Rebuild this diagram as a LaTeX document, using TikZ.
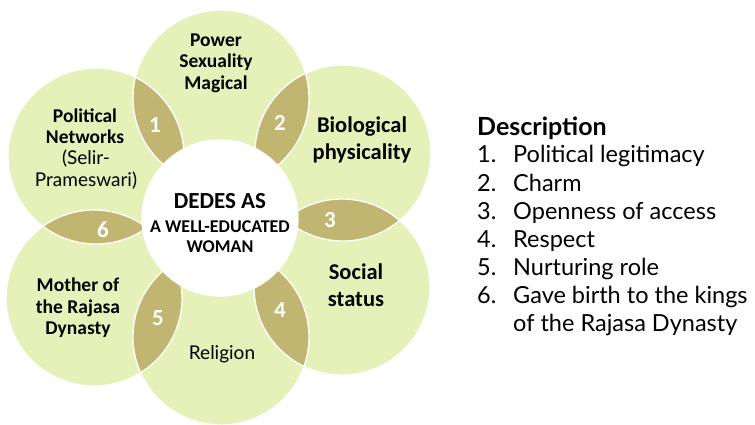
\documentclass[tikz,border=0pt]{standalone}
\usepackage{fontspec}
\setmainfont{Carlito}
\newfontfamily\lato{Lato}
\definecolor{petalgreen}{RGB}{229,241,184}
\definecolor{lensolive}{RGB}{193,181,114}
\tikzset{
  petalfill/.style={fill=petalgreen},
  lensfill/.style={fill=lensolive},
  rim/.style={draw=white, line width=1.3pt},
  blabel/.style={align=center, text=black, inner sep=1pt, font=\bfseries\fontsize{19.5}{21.5}\selectfont},
  biglabel/.style={align=center, text=black, inner sep=1pt, font=\bfseries\fontsize{22.5}{27}\selectfont},
  rlabel/.style={align=center, text=black, inner sep=1pt, font=\lato\fontsize{19}{22}\selectfont},
  numlabel/.style={text=white, font=\bfseries\fontsize{23}{23}\selectfont},
  hubtext/.style={anchor=base, inner sep=1pt, font=\bfseries\fontsize{18}{18}\selectfont},
  desc/.style={anchor=base west, inner sep=0pt, text=black, font=\lato\fontsize{23.5}{28}\selectfont},
}
\begin{document}
\begin{tikzpicture}[x=1pt,y=-1pt]
\useasboundingbox (0,0) rectangle (755,425);
\coordinate (p1) at (221,98);
\coordinate (p2) at (343,153);
\coordinate (p3) at (342,287);
\coordinate (p4) at (221,337);
\coordinate (p5) at (94,298);
\coordinate (p6) at (96,156);
% petals
\foreach \p in {p1,p2,p3,p4,p5,p6} \fill[petalfill] (\p) circle (88pt);
% lenses
\foreach \a/\b in {p1/p2,p2/p3,p3/p4,p4/p5,p5/p6,p6/p1}{
  \begin{scope}
    \clip (\a) circle (88pt);
    \fill[lensfill] (\b) circle (88pt);
  \end{scope}
}
% outlines
\foreach \p in {p1,p2,p3,p4,p5,p6} \draw[rim] (\p) circle (88pt);
% centre
\node[circle, fill=white, draw=white, line width=1.3pt, minimum size=156pt, inner sep=0pt] (hub) at (220,218) {};
\node[hubtext, font=\bfseries\fontsize{23}{23}\selectfont] (hub1) at (220,208) {DEDES AS};
\node[hubtext] (hub2) at (220,232) {A WELL-EDUCATED};
\node[hubtext] (hub3) at (220,252) {WOMAN};
% petal labels
\node[blabel] (t1) at (216,63) {Power\\Sexuality\\Magical};
\node[biglabel] (t2) at (362,140) {Biological\\physicality};
\node[biglabel] (t3) at (356,285) {Social\\status};
\node[rlabel] (t4) at (222,354) {Religion};
\node[blabel] (t5) at (78,308) {Mother of\\the Rajasa\\Dynasty};
\node[blabel] (t6) at (85,126) {Political\\Networks};
\node[rlabel] (t6b) at (86,170) {(Selir-\\Prameswari)};
% numbers
\node[numlabel] (n1) at (155,125) {1};
\node[numlabel] (n2) at (280,123) {2};
\node[numlabel] (n3) at (330,220) {3};
\node[numlabel] (n4) at (280,310) {4};
\node[numlabel] (n5) at (158,318) {5};
\node[numlabel] (n6) at (103,230) {6};
% description
\node[desc, font=\lato\bfseries\fontsize{25}{28}\selectfont] (dh) at (477,136) {Description};
\foreach \i/\txt [count=\k] in {1/Political legitimacy,2/Charm,3/Openness of access,4/Respect,5/Nurturing role,6/Gave birth to the kings}{
  \node[desc] (dn\k) at (477,{135+28*\k}) {\i.};
  \node[desc] (dt\k) at (513,{135+28*\k}) {\txt};
}
\node[desc] (dt7) at (513,331) {of the Rajasa Dynasty};
\end{tikzpicture}
\end{document}
